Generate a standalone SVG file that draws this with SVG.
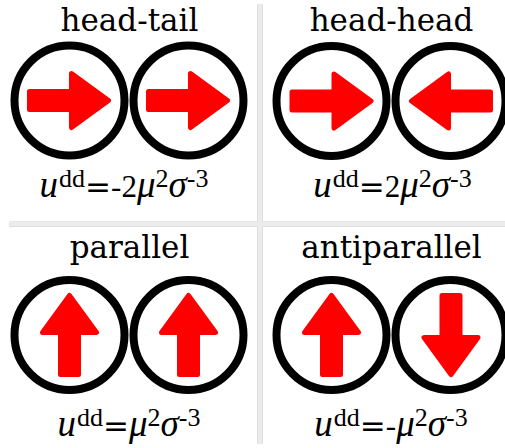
<svg xmlns="http://www.w3.org/2000/svg" xmlns:xlink="http://www.w3.org/1999/xlink" width="505" height="448" viewBox="0 0 505 448">
<style>
.t{font-family:"DejaVu Serif",serif;font-size:31px;text-anchor:middle;fill:#000}
.f{font-family:"Liberation Serif",serif;text-anchor:middle;fill:#000}
.m{font-style:italic;font-size:37px}
.n{font-size:31px}
.s{font-size:26px}
.eq{font-family:"DejaVu Sans",sans-serif;font-size:31px}
.c{fill:none;stroke:#000;stroke-width:8}
.a{fill:#ff0000;stroke:#ff0000;stroke-width:5;stroke-linejoin:round}
.gb{fill:none;stroke:#d0d0d0;stroke-width:1}
.gf{fill:#ececec;stroke:none}
</style>
<defs>
<path id="arr" class="a" d="M-39.5,-9 H2.5 V-27 L39.5,0 L2.5,27 V9 H-39.5 Z"/>
</defs>
<rect width="505" height="448" fill="#fff"/>
<g id="grid">
<rect class="gb" x="257.5" y="5" width="5" height="438"/>
<rect class="gb" x="10" y="222" width="500" height="4.5"/>
<rect class="gf" x="257.5" y="5" width="5" height="438"/>
<rect class="gf" x="10" y="222" width="500" height="4.5"/>
</g>
<g id="connectors"/>
<g id="head-tail">
<text class="t" x="129.5" y="30.5">head-tail</text>
<g id="ht1"><circle class="c" cx="69.5" cy="100.5" r="55"/><use xlink:href="#arr" transform="translate(69,100.5)"/></g>
<g id="ht2"><circle class="c" cx="188.5" cy="100.5" r="55"/><use xlink:href="#arr" transform="translate(188,100.5)"/></g>
<text class="f" x="124" y="197"><tspan class="m">u</tspan><tspan class="s" dx="1" dy="-10">dd</tspan><tspan class="eq" dy="10">=</tspan><tspan class="n">-2</tspan><tspan class="m">μ</tspan><tspan class="s" dy="-10">2</tspan><tspan class="m" dy="10">σ</tspan><tspan class="s" dy="-10">-3</tspan></text>
</g>
<g id="head-head">
<text class="t" x="391.5" y="30.5">head-head</text>
<g id="hh1"><circle class="c" cx="331.5" cy="101" r="55"/><use xlink:href="#arr" transform="translate(331.5,101)"/></g>
<g id="hh2"><circle class="c" cx="450.5" cy="101" r="55"/><use xlink:href="#arr" transform="translate(451,101) rotate(180)"/></g>
<text class="f" x="392.5" y="197"><tspan class="m">u</tspan><tspan class="s" dx="1" dy="-10">dd</tspan><tspan class="eq" dy="10">=</tspan><tspan class="n">2</tspan><tspan class="m">μ</tspan><tspan class="s" dy="-10">2</tspan><tspan class="m" dy="10">σ</tspan><tspan class="s" dy="-10">-3</tspan></text>
</g>
<g id="parallel">
<text class="t" x="129.5" y="257.5">parallel</text>
<g id="p1"><circle class="c" cx="69.5" cy="335" r="55"/><use xlink:href="#arr" transform="translate(69.5,335) rotate(-90)"/></g>
<g id="p2"><circle class="c" cx="188.5" cy="335" r="55"/><use xlink:href="#arr" transform="translate(188.5,335) rotate(-90)"/></g>
<text class="f" x="129" y="436"><tspan class="m">u</tspan><tspan class="s" dx="1" dy="-10">dd</tspan><tspan class="eq" dy="10">=</tspan><tspan class="m">μ</tspan><tspan class="s" dy="-10">2</tspan><tspan class="m" dy="10">σ</tspan><tspan class="s" dy="-10">-3</tspan></text>
</g>
<g id="antiparallel">
<text class="t" x="391.5" y="257.5">antiparallel</text>
<g id="ap1"><circle class="c" cx="331.5" cy="335" r="55"/><use xlink:href="#arr" transform="translate(331.5,335) rotate(-90)"/></g>
<g id="ap2"><circle class="c" cx="450.5" cy="335" r="55"/><use xlink:href="#arr" transform="translate(451,335) rotate(90)"/></g>
<text class="f" x="391" y="436"><tspan class="m">u</tspan><tspan class="s" dx="1" dy="-10">dd</tspan><tspan class="eq" dy="10">=</tspan><tspan class="n">-</tspan><tspan class="m">μ</tspan><tspan class="s" dy="-10">2</tspan><tspan class="m" dy="10">σ</tspan><tspan class="s" dy="-10">-3</tspan></text>
</g>
</svg>
